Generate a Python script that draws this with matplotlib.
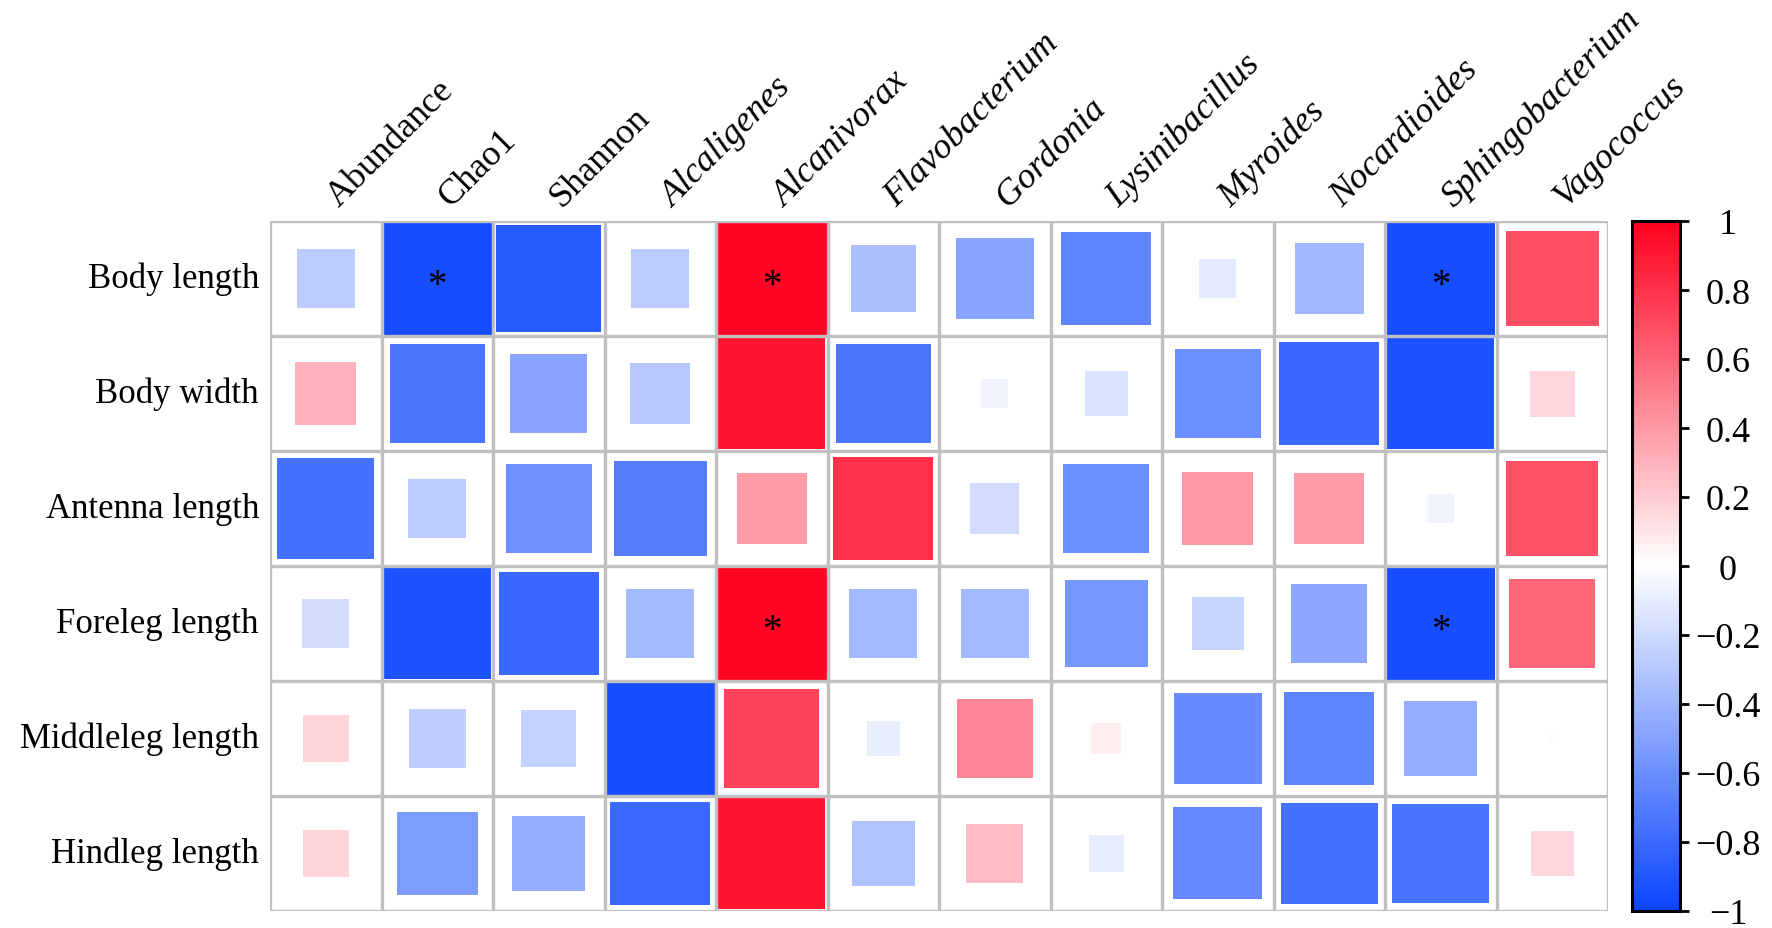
import numpy as np
import matplotlib
matplotlib.use("Agg")
import matplotlib.pyplot as plt
from matplotlib.patches import Rectangle
from matplotlib.colors import LinearSegmentedColormap, Normalize
from matplotlib.cm import ScalarMappable
import matplotlib.transforms as mtransforms

plt.rcParams['font.family'] = ['Liberation Serif', 'DejaVu Serif']

columns = ["Abundance", "Chao1", "Shannon", "Alcaligenes", "Alcanivorax",
           "Flavobacterium", "Gordonia", "Lysinibacillus", "Myroides",
           "Nocardioides", "Sphingobacterium", "Vagococcus"]
italic_cols = [False, False, False] + [True] * 9
rows = ["Body length", "Body width", "Antenna length", "Foreleg length",
        "Middleleg length", "Hindleg length"]

body_length = [-0.27, -0.95, -0.88, -0.27, 0.97, -0.34, -0.49, -0.65, -0.11, -0.38, -0.95, 0.69]
body_width = [0.30, -0.73, -0.48, -0.29, 0.92, -0.73, -0.06, -0.15, -0.60, -0.81, -0.92, 0.16]
antenna_length = [-0.76, -0.27, -0.59, -0.69, 0.39, 0.81, -0.19, -0.60, 0.40, 0.39, -0.06, 0.68]
foreleg_length = [-0.18, -0.92, -0.81, -0.37, 0.97, -0.37, -0.37, -0.56, -0.22, -0.47, -0.95, 0.60]
middleleg_length = [0.17, -0.26, -0.24, -0.95, 0.73, -0.09, 0.47, 0.07, -0.62, -0.65, -0.43, 0.01]
hindleg_length = [0.17, -0.53, -0.43, -0.80, 0.92, -0.32, 0.26, -0.10, -0.64, -0.76, -0.75, 0.15]

# significant cells (row index, column index)
significant = [(0, 1), (0, 4), (0, 10), (3, 4), (3, 10)]

values = np.array([body_length, body_width, antenna_length, foreleg_length,
                   middleleg_length, hindleg_length])

cmap = LinearSegmentedColormap.from_list(
    "bwr_custom", [(0.04, 0.27, 1.0), (1.0, 1.0, 1.0), (1.0, 0.0, 0.12)])
norm = Normalize(vmin=-1, vmax=1)

W, H = 1772, 929
fig = plt.figure(figsize=(W / 100, H / 100), dpi=100)

gl, gr, gt, gb = 270, 1608, 222, 912
ax = fig.add_axes([gl / W, 1 - gb / H, (gr - gl) / W, (gb - gt) / H])
nr, nc = values.shape
ax.set_xlim(0, nc)
ax.set_ylim(nr, 0)
ax.axis("off")

for i in range(nr):
    for j in range(nc):
        r = values[i, j]
        s = np.sqrt(abs(r))
        ax.add_patch(Rectangle((j + 0.5 - s / 2, i + 0.5 - s / 2), s, s,
                               facecolor=cmap(norm(r)), edgecolor="none", zorder=1))

for k in range(nc + 1):
    ax.plot([k, k], [0, nr], color="#c0c0c0", lw=2.4, zorder=2, solid_capstyle="projecting")
for k in range(nr + 1):
    ax.plot([0, nc], [k, k], color="#c0c0c0", lw=2.4, zorder=2, solid_capstyle="projecting")

for (i, j) in significant:
    ax.text(j + 0.5, i + 0.56, "*", ha="center", va="center", fontsize=28, color="black", zorder=3)

for i, name in enumerate(rows):
    ax.text(-11 / (gr - gl), 1 - (i + 0.5) / nr, name, transform=ax.transAxes,
            ha="right", va="center", fontsize=25)

trans = mtransforms.blended_transform_factory(ax.transData, ax.transAxes)
dx = 13 / ((gr - gl) / nc)
for j, name in enumerate(columns):
    ax.text(j + 0.5 + dx, 1 + 14 / (gb - gt), name, transform=trans, rotation=45,
            rotation_mode="anchor", ha="left", va="baseline", fontsize=26,
            style="italic" if italic_cols[j] else "normal")

cax = fig.add_axes([1632 / W, 1 - gb / H, 48 / W, (gb - gt) / H])
sm = ScalarMappable(norm=norm, cmap=cmap)
cb = fig.colorbar(sm, cax=cax)
ticks = np.round(np.arange(-1, 1.01, 0.2), 1)
cb.set_ticks(ticks)
cb.set_ticklabels([("\u2212" if t < 0 else "") + (f"{abs(t):g}") for t in ticks])
cb.outline.set_linewidth(2.2)
cb.outline.set_edgecolor("black")
cax.tick_params(axis="y", length=6.5, width=2, labelsize=26, pad=28, colors="black")
for lbl in cax.get_yticklabels():
    lbl.set_horizontalalignment("center")

fig.savefig("out.png", dpi=100)
